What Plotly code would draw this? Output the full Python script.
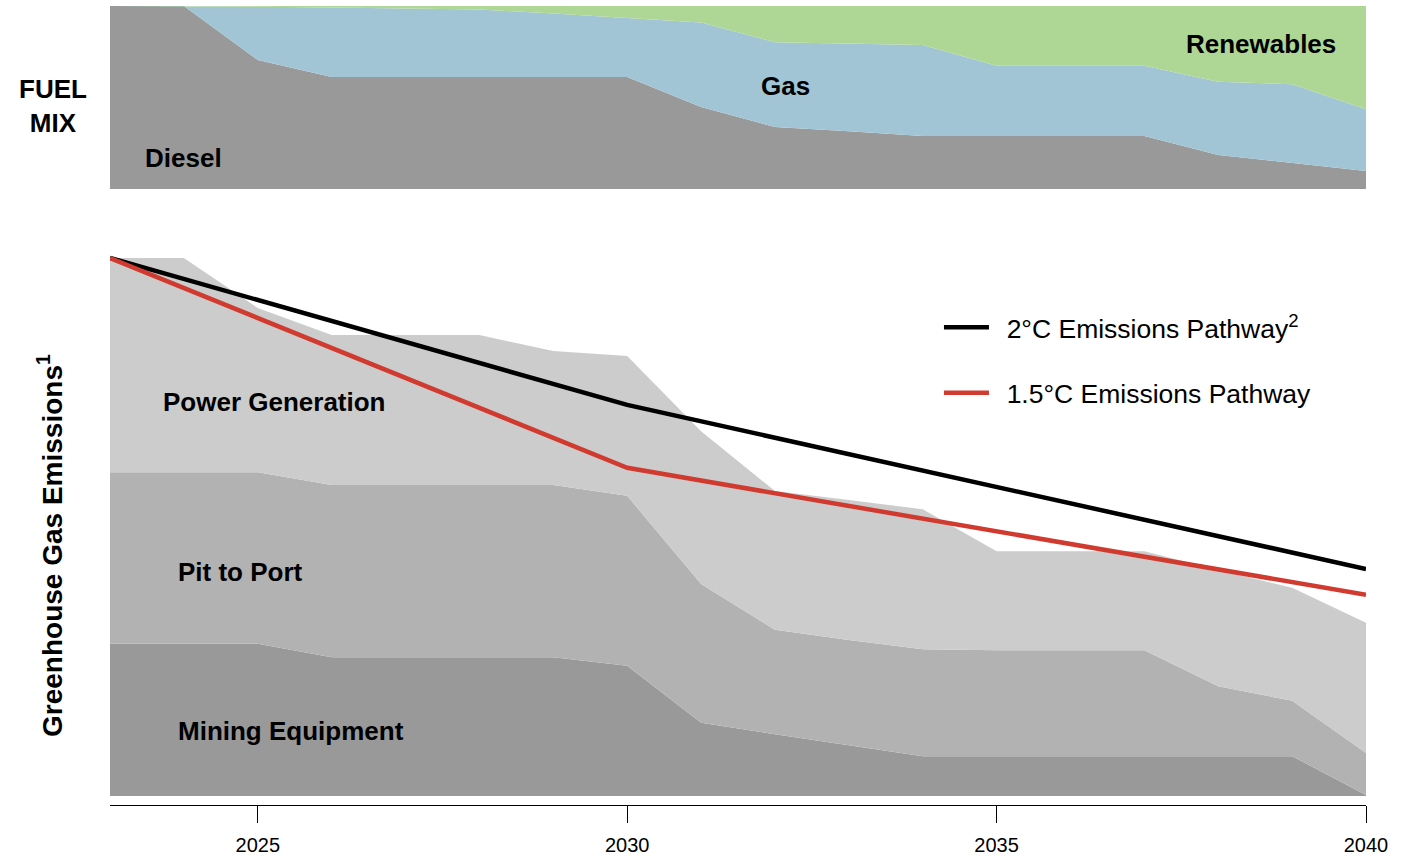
import plotly.graph_objects as go

# ---------------- data ----------------
years = list(range(2023, 2041))

# Fuel mix shares (%)
diesel = [100, 100, 70.5, 61.2, 61.2, 61.2, 61.2, 61.2, 44.8, 33.9, 31.5, 29.0, 29.0, 29.0, 29.0, 18.6, 14.2, 9.8]
gas = [0, 0, 29.1, 38.0, 37.4, 36.9, 34.7, 32.2, 46.2, 46.3, 47.9, 49.7, 38.4, 38.4, 38.4, 40.0, 43.0, 33.8]
renewables = [0, 0, 0.4, 0.8, 1.4, 1.9, 4.1, 6.6, 9.0, 19.8, 20.6, 21.3, 32.6, 32.6, 32.6, 41.4, 42.8, 56.4]

# Greenhouse gas emissions by source (index, 2023 total = 100)
mining = [28.3, 28.3, 28.3, 25.8, 25.8, 25.8, 25.8, 24.2, 13.6, 11.5, 9.5, 7.4, 7.4, 7.4, 7.4, 7.4, 7.4, 0.2]
pit_to_port = [31.9, 31.9, 31.9, 32.0, 32.0, 32.0, 32.0, 31.6, 25.8, 19.4, 19.5, 19.9, 19.7, 19.7, 19.7, 13.0, 10.3, 7.8]
power_gen = [39.8, 39.8, 30.5, 27.9, 27.9, 27.9, 24.9, 26.0, 28.4, 25.8, 26.0, 26.0, 18.4, 18.4, 18.4, 21.6, 21.0, 24.2]

# Pathways
path_years = [2023, 2030, 2040]
two_deg = [100, 72.7, 42.2]
one_five_deg = [100, 61.0, 37.4]

tick_years = [2025, 2030, 2035, 2040]

FONT = "Liberation Sans, Arial, sans-serif"
PAD = "\u00a0\u2009"

fig = go.Figure()

# ---------- top: fuel mix ----------
for name, vals, col in [("Diesel", diesel, "#999999"),
                        ("Gas", gas, "#A1C5D4"),
                        ("Renewables", renewables, "#AED795")]:
    fig.add_trace(go.Scatter(x=years, y=vals, name=name, stackgroup="fuel",
                             mode="lines", line=dict(width=0), fillcolor=col,
                             showlegend=False, xaxis="x", yaxis="y"))

# ---------- bottom: emissions ----------
for name, vals, col in [("Mining Equipment", mining, "#999999"),
                        ("Pit to Port", pit_to_port, "#B2B2B2"),
                        ("Power Generation", power_gen, "#CCCCCC")]:
    fig.add_trace(go.Scatter(x=years, y=vals, name=name, stackgroup="ghg",
                             mode="lines", line=dict(width=0), fillcolor=col,
                             showlegend=False, xaxis="x2", yaxis="y2"))

fig.add_trace(go.Scatter(x=path_years, y=two_deg, mode="lines",
                         name=PAD + "2°C Emissions Pathway<sup>2</sup>",
                         line=dict(color="#000000", width=4.5),
                         legendgroup="a", xaxis="x2", yaxis="y2"))
fig.add_trace(go.Scatter(x=path_years, y=one_five_deg, mode="lines",
                         name=PAD + "1.5°C Emissions Pathway",
                         line=dict(color="#D03A2F", width=4.5),
                         legendgroup="b", xaxis="x2", yaxis="y2"))

label_font = dict(family=FONT, size=26, color="#000000")
annos = [
    dict(text="<b>Diesel</b>", x=2023.99, y=16.9, xref="x", yref="y"),
    dict(text="<b>Gas</b>", x=2032.14, y=56.3, xref="x", yref="y"),
    dict(text="<b>Renewables</b>", x=2038.58, y=79.2, xref="x", yref="y"),
    dict(text="<b>Power Generation</b>", x=2025.23, y=73.2, xref="x2", yref="y2"),
    dict(text="<b>Pit to Port</b>", x=2024.77, y=41.6, xref="x2", yref="y2"),
    dict(text="<b>Mining Equipment</b>", x=2025.45, y=12.1, xref="x2", yref="y2"),
    dict(text="<b>FUEL<br>MIX</b>", x=-0.0454, y=0.8748, xref="paper", yref="paper"),
    dict(text="<b>Greenhouse Gas Emissions<sup>1</sup></b>", x=-0.0478, y=0.3254,
         xref="paper", yref="paper", textangle=-90,
         font=dict(family=FONT, size=28, color="#000000")),
]
for a in annos:
    a.setdefault("font", label_font)
    a.update(showarrow=False, xanchor="center", yanchor="middle")

fig.update_layout(
    width=1405, height=855,
    margin=dict(l=110, r=39, t=6, b=50, autoexpand=False),
    paper_bgcolor="white", plot_bgcolor="white",
    font=dict(family=FONT, color="#000000"),
    annotations=annos,
    xaxis=dict(domain=[0, 1], range=[2023, 2040], visible=False, anchor="y"),
    yaxis=dict(domain=[0.771, 1.0], range=[0, 100], visible=False, anchor="x"),
    xaxis2=dict(domain=[0, 1], range=[2023, 2040], anchor="y2",
                showline=True, linecolor="#000000", linewidth=1.3,
                ticks="outside", ticklen=17, tickwidth=1.3, tickcolor="#000000",
                tickvals=tick_years, ticktext=[str(t) for t in tick_years],
                tickfont=dict(family=FONT, size=20, color="#000000"),
                ticklabelstandoff=5, automargin=False,
                showgrid=False, zeroline=False),
    yaxis2=dict(domain=[0, 0.6946], range=[-1.673, 101.49], anchor="x2",
                visible=False),
    legend=dict(x=0.66, y=0.6275, xanchor="left", yanchor="top",
                font=dict(family=FONT, size=26.5, color="#000000"),
                bgcolor="rgba(0,0,0,0)", tracegroupgap=28, itemwidth=45,
                traceorder="grouped"),
    hovermode=False,
)

fig.write_html("out.html", config={"displayModeBar": False},
               post_script="document.body.style.margin='0';")
